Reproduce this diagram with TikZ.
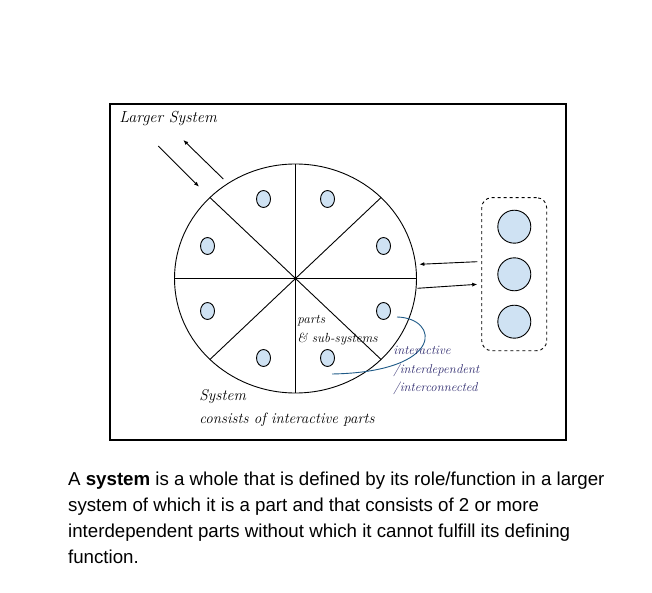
\documentclass[tikz,border=0pt]{standalone}
\usepackage{fontspec}
\usepackage{xcolor}
\usetikzlibrary{shapes.geometric, arrows.meta}
\newfontfamily\bodyfont{Liberation Sans}
\definecolor{partblue}{HTML}{CFE2F3}
\definecolor{linkblue}{HTML}{1F5A87}
\definecolor{notenavy}{HTML}{2E2A6E}

\begin{document}
\begin{tikzpicture}[x=1pt, y=-1pt, line width=0.9pt,
		part/.style={ellipse, draw, fill=partblue, minimum width=14pt, minimum height=17pt, inner sep=0pt},
		ball/.style={circle, draw, fill=partblue, minimum size=33pt, inner sep=0pt},
		flow/.style={-{Latex[length=5pt, width=4pt]}},
		hand/.style={font=\itshape\fontsize{15}{18}\selectfont, inner sep=0pt}]
				\useasboundingbox (0, 0) rectangle (652, 593);
				% larger system
				\draw[line width=1.2pt] (110, 104) rectangle (566, 440);
				\node[hand, font=\itshape\fontsize{16}{18}\selectfont, anchor=base west] (larger) at (119, 123) {Larger System};
				% the system itself
				\coordinate (c) at (295.5, 278.5);
				\draw (c) ellipse [x radius=121pt, y radius=114.5pt];
				\foreach \a in {0, 45, ..., 315}
					\draw (c) -- +(\a:121pt and 114.5pt);
				\foreach \dx/\dy [count=\i] in {-32/-79.5, 32/-79.5, -88/-32.5, 88/-32.5, -88/32.5, -32/79.5, 32/79.5, 88/32.5}
					\node[part] (part\i) at ([xshift=\dx pt, yshift=-\dy pt]c) {};
				% neighbouring system
				\node[draw, dashed, rounded corners=10pt, minimum width=65pt, minimum height=153pt] (other) at (514.2, 274.2) {};
				\node[ball] (ball1) at (514.3, 226.7) {};
				\node[ball] (ball2) at (514.3, 274.3) {};
				\node[ball] (ball3) at (514.3, 321.7) {};
				% exchanges
				\coordinate (inA) at (158.3, 146);
				\coordinate (inB) at (199, 186.7);
				\coordinate (outA) at (223.3, 179);
				\coordinate (outB) at (183.3, 140);
				\coordinate (fromA) at (477.3, 261.7);
				\coordinate (fromB) at (419.3, 264.3);
				\coordinate (toA) at (417.3, 288.3);
				\coordinate (toB) at (477.3, 284.3);
				\draw[flow] (inA) -- (inB);
				\draw[flow] (outA) -- (outB);
				\draw[flow] (fromA) -- (fromB);
				\draw[flow] (toA) -- (toB);
				% labels
				\node[hand, font=\itshape\fontsize{13.2}{19.3}\selectfont, align=left, anchor=west] (parts) at (297, 330.3) {parts\\\& sub-systems};
				\coordinate (linkA) at (397, 317);
				\coordinate (linkB) at (332, 374);
				\draw[linkblue, line width=0.9pt] (linkA) .. controls (440, 318) and (445, 372) .. (linkB);
				\node[hand, font=\itshape\fontsize{12.8}{18.8}\selectfont, text=notenavy, align=left, anchor=west] (inter) at (393, 370.5) {interactive\\/interdependent\\/interconnected};
				\node[hand, font=\itshape\fontsize{15.5}{16}\selectfont, anchor=base west] (sys) at (199, 400.7) {System};
				\node[hand, anchor=base west] (consists) at (199, 423.3) {consists of interactive parts};
				% definition
				\node[font=\bodyfont\fontsize{18.7}{26}\selectfont, align=left, anchor=base west, inner sep=0pt] (def) at (67.7, 563) {A \textbf{system} is a whole that is defined by its role/function in a larger\\system of which it is a part and that consists of 2 or more\\interdependent parts without which it cannot fulfill its defining\\function.};
			\end{tikzpicture}
\end{document}
